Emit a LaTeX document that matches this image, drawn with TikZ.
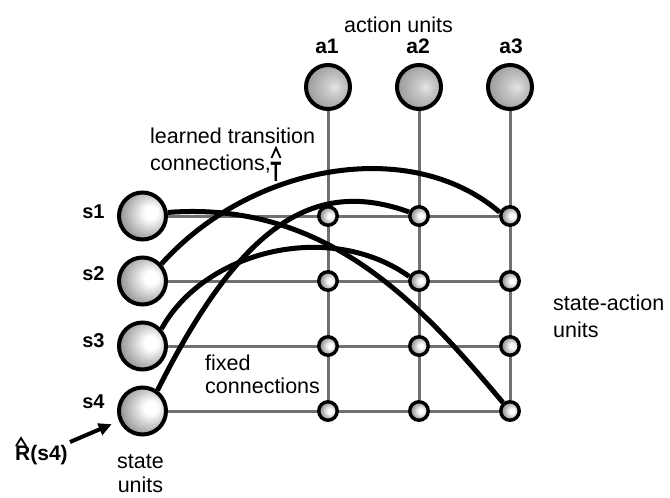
\documentclass[tikz,border=0pt]{standalone}
\usepackage{fontspec}
\setmainfont{Liberation Sans}
\usetikzlibrary{arrows.meta}
\pgfdeclarelayer{paper}
\pgfdeclarelayer{bg}
\pgfsetlayers{paper,bg,main}

% shaded balls for the three kinds of units
\pgfdeclareradialshading{stateball}{\pgfpoint{10bp}{4bp}}{%
  color(0bp)=(white); color(7bp)=(white); color(28bp)=(black!38);
  color(50bp)=(black!55); color(75bp)=(black!58)}
\pgfdeclareradialshading{actionball}{\pgfpoint{8bp}{0bp}}{%
  color(0bp)=(black!10); color(10bp)=(black!22); color(30bp)=(black!40);
  color(50bp)=(black!50); color(75bp)=(black!54)}
\pgfdeclareradialshading{saball}{\pgfpoint{6bp}{0bp}}{%
  color(0bp)=(white); color(6bp)=(white); color(22bp)=(black!35);
  color(40bp)=(black!55); color(75bp)=(black!60)}

\definecolor{gridgray}{RGB}{112,112,112}

\tikzset{
  stateunit/.style={circle, draw=black, line width=4pt, minimum size=47pt,
    inner sep=0pt, shading=stateball},
  actionunit/.style={circle, draw=black, line width=4pt, minimum size=44pt,
    inner sep=0pt, shading=actionball},
  saunit/.style={circle, draw=black, line width=3.4pt, minimum size=18.5pt,
    inner sep=0pt, shading=saball},
  gridline/.style={draw=gridgray, line width=3pt},
  learned/.style={draw=black, line width=5pt},
  txt/.style={font=\fontsize{21.5}{24}\selectfont, inner sep=0pt},
  lbl/.style={font=\fontsize{21}{24}\selectfont\bfseries, inner sep=0pt},
  slbl/.style={font=\fontsize{20}{24}\selectfont\bfseries, inner sep=0pt},
  tall/.style={font=\fontsize{28}{30}\selectfont\bfseries, inner sep=0pt},
  hatmark/.style={draw=black, line width=1.8pt, line join=miter},
}

\begin{document}
\begin{tikzpicture}[x=1pt, y=-1pt]
\begin{pgfonlayer}{paper}
  \fill[white] (0,0) rectangle (670,498);
\end{pgfonlayer}
\useasboundingbox (0,0) rectangle (670,498);

% state units
\foreach \i/\y in {1/216, 2/281, 3/346, 4/411}
  \node[stateunit] (s\i) at (142.5,\y) {};

% action units
\foreach \j/\x in {1/328, 2/419, 3/510}
  \node[actionunit] (a\j) at (\x,87) {};

% state-action units
\foreach \i/\y in {1/216, 2/281, 3/346, 4/411}
  \foreach \j/\x in {1/328, 2/419, 3/510}
    \node[saunit] (sa\i\j) at (\x,\y) {};

\begin{pgfonlayer}{bg}
  % fixed connections
  \foreach \i in {1,...,4}
    \draw[gridline] (s\i) -- (sa\i3);
  \foreach \j in {1,2,3}
    \draw[gridline] (a\j) -- (sa4\j);

  % learned transition connections
  \draw[learned] (s2.42) .. controls (250,165) and (410,135) .. (sa13.160);
  \draw[learned] (s1.8) .. controls (330,200) and (425,310) .. (sa43.130);
  \draw[learned] (s3.42) .. controls (205,250) and (330,220) .. (sa22.155);
  \draw[learned] (s4.54) .. controls (245,215) and (320,180) .. (sa12.158);
\end{pgfonlayer}

% labels of the units
\node[txt, anchor=base] (actlbl) at (398.5,32) {action units};
\node[lbl, anchor=base] (la1) at (327,53) {a1};
\node[lbl, anchor=base] (la2) at (418,53) {a2};
\node[lbl, anchor=base] (la3) at (511,53) {a3};

\node[slbl, anchor=base] (ls1) at (93.5,218) {s1};
\node[slbl, anchor=base] (ls2) at (93.5,280) {s2};
\node[slbl, anchor=base] (ls3) at (93.5,347) {s3};
\node[slbl, anchor=base] (ls4) at (93.5,408) {s4};

\node[txt, anchor=base west] (lt1) at (150,143) {learned transition};
\node[txt, anchor=base west] (lt2) at (150,170) {connections,};
\node[tall, anchor=base] (tsym) at (276,181) {\scalebox{0.62}[1]{T}};
\draw[hatmark] (271.5,158) -- (276,148) -- (280.5,158);

\node[txt, anchor=base west] (fx1) at (205,370) {fixed};
\node[txt, anchor=base west] (fx2) at (205,393) {connections};

\node[txt, anchor=base west] (sal1) at (553,310) {state-action};
\node[txt, anchor=base west] (sal2) at (553,337) {units};

\node[txt, anchor=base] (st1) at (140.5,468) {state};
\node[txt, anchor=base] (st2) at (140.5,492) {units};

% reward input to s4
\node[lbl, anchor=base west] (rlbl) at (15,460) {R(s4)};
\draw[hatmark] (16,446) -- (21,438) -- (26,446);
\coordinate (rin) at (70,442);
\draw[line width=4pt, -{Triangle[length=13pt,width=12pt]}, shorten >=8pt] (rin) -- (s4);
\end{tikzpicture}
\end{document}
